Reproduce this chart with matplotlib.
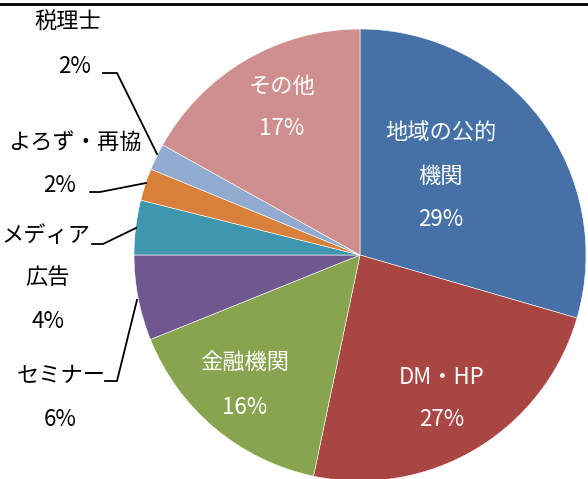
import matplotlib.pyplot as plt
from matplotlib.lines import Line2D

plt.rcParams['font.family'] = ['Noto Sans CJK JP', 'DejaVu Sans']

# Data (wedge shares, printed labels as shown)
categories = ['地域の公的\n機関', 'DM・HP', '金融機関', 'セミナー', 'メディア\n広告',
              'よろず・再協', '税理士', 'その他']
shares = [29.5, 23.8, 15.6, 6.1, 3.9, 2.3, 1.9, 16.9]
pct_labels = ['29%', '27%', '16%', '6%', '4%', '2%', '2%', '17%']
colors = ['#4671A6', '#A94644', '#88A44F', '#6F5790', '#4096AE', '#D9813B',
          '#90AAD0', '#D08F8F']

W, H = 588, 479
fig = plt.figure(figsize=(W / 100, H / 100), dpi=100)
ax = fig.add_axes([0, 0, 1, 1])
ax.set_xlim(0, W)
ax.set_ylim(0, H)
ax.axis('off')

def py(y):
    # pixel row (from top) -> data y
    return H - y

cx, cy, r = 360, 255, 226
ax.pie(shares, colors=colors, startangle=90, counterclock=False,
       center=(cx, py(cy)), radius=r, frame=True,
       wedgeprops=dict(edgecolor='white', linewidth=0.4))
ax.set_xlim(0, W)
ax.set_ylim(0, H)
ax.axis('off')

fs = 16
# labels inside the wedges (white)
inside = {0: [(441, 133), (441, 176), (441, 219)],
          1: [(442, 378), (442, 420)],
          2: [(245, 362), (245, 408)],
          7: [(282, 86), (282, 128)]}
for i, pos in inside.items():
    lines = categories[i].split('\n') + [pct_labels[i]]
    for txt, (x, y) in zip(lines, pos):
        ax.text(x, py(y), txt, color='white', fontsize=fs, ha='center', va='center')

# labels outside (black)
outside = {6: [(68, 22), (75, 66)],
           5: [(75, 142), (60, 185)],
           4: [(46, 235), (48, 278), (48, 321)],
           3: [(61, 376), (60, 419)]}
for i, pos in outside.items():
    lines = categories[i].split('\n') + [pct_labels[i]]
    for txt, (x, y) in zip(lines, pos):
        ax.text(x, py(y), txt, color='black', fontsize=fs, ha='center', va='center')

# leader lines
leaders = [[(103, 73), (117, 73), (157, 154)],
           [(90, 192), (100, 192), (146, 183)],
           [(92, 244), (103, 244), (136, 228)],
           [(105, 381), (117, 381), (137, 300)]]
for pts in leaders:
    ax.plot([p[0] for p in pts], [py(p[1]) for p in pts], color='black', lw=1.3)

# top rule of the cropped heading
fig.add_artist(Line2D([0, 1], [1 - 4 / H, 1 - 4 / H], color='black', lw=2))

fig.savefig('out.png', dpi=100)
